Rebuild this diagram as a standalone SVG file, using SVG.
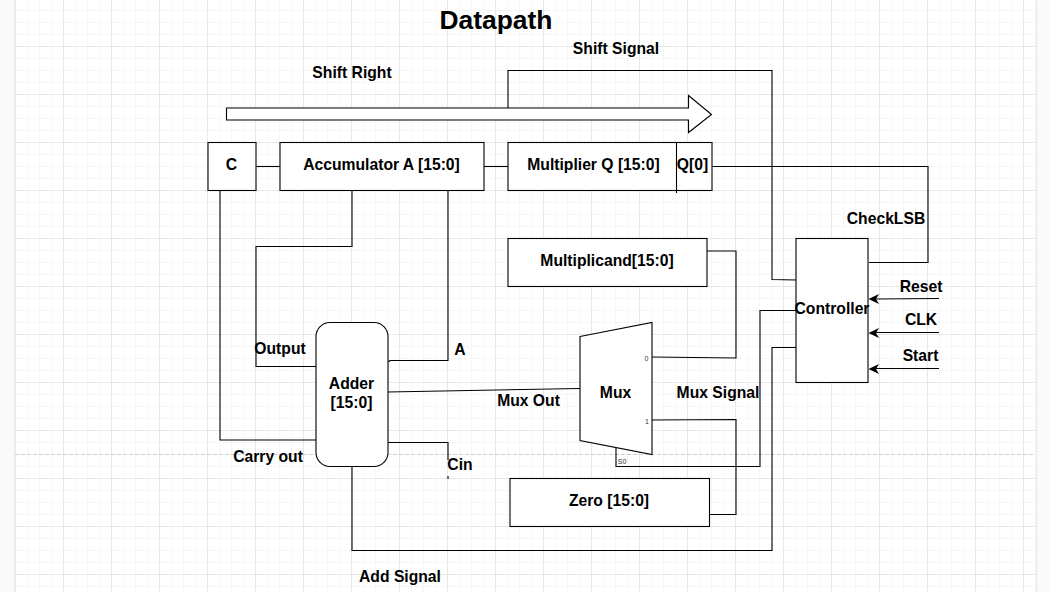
<svg xmlns="http://www.w3.org/2000/svg" width="1050" height="592" viewBox="0 0 1050 592">
<style>
text{font-family:"Liberation Sans",Arial,sans-serif;font-weight:bold;font-size:15.7px;fill:#000;text-anchor:middle}
.n{fill:#fff;stroke:#000;stroke-width:1.1}
.c{fill:none;stroke:#000;stroke-width:1.1}
.s{font-weight:normal;font-size:7px;fill:#333}
</style>
<defs>
<pattern id="minor" patternUnits="userSpaceOnUse" x="15" y="-2" width="12" height="12"><path d="M.5 0V12M0 .5H12" fill="none" stroke="#f6f6f6" stroke-width="1"/></pattern>
<pattern id="major" patternUnits="userSpaceOnUse" x="15" y="-2" width="48" height="48"><path d="M.5 0V48M0 .5H48" fill="none" stroke="#e7e7e7" stroke-width="1"/></pattern>
</defs>
<rect width="1050" height="592" fill="#fafafa"/>
<rect x="14" width="1023" height="592" fill="#e8e8e8"/>
<rect x="15.500" width="1020" height="592" fill="#fff"/>
<rect x="15.500" width="1020" height="592" fill="url(#minor)"/>
<rect x="15.500" width="1020" height="592" fill="url(#major)"/>
<path d="M15 454.500H1035" fill="none" stroke="#cfcfcf" stroke-width="1" stroke-dasharray="4 2"/>
<g id="connectors">
<path class="c" d="M256 166.500H280"/>
<path class="c" d="M484 166.500H508"/>
<path class="c" d="M220 190V440H316"/>
<path class="c" d="M352 190V246.500H256V366.500H316"/>
<path class="c" d="M448 190V360.500H390L388.500 362"/>
<path class="c" d="M388 392L580 388.500"/>
<path class="c" d="M388 442.500H448V460M448 476V479"/>
<path class="c" d="M352 466V550.500H772V347.500H796"/>
<path class="c" d="M707 251H736V358L652 357"/>
<path class="c" d="M710 514.500H736V419.500L652 420"/>
<path class="c" d="M616 448V466.500H760V310.500H796"/>
<path class="c" d="M508 108V70.500H772V279.500L796 280"/>
<path class="c" d="M712 166.500H928V262.500H869"/>
<path class="c" d="M939 298.500L876 299"/>
<path class="c" d="M939 332.500H876"/>
<path class="c" d="M939 368.500H876"/>
<path d="M868.500 299L879 294L876 299L879 304Z"/>
<path d="M868.500 333L879 328L876 333L879 338Z"/>
<path d="M868.500 369L879 364L876 369L879 374Z"/>
</g>
<g id="shift-arrow"><path class="n" d="M226.500 108H688.500V95.500L711.500 114.500L688.500 132.500V120H226.500Z"/></g>
<g id="node-c"><rect class="n" x="208" y="142.500" width="48" height="48"/><text x="231.500" y="170">C</text></g>
<g id="node-accumulator"><rect class="n" x="280" y="142.500" width="204" height="48"/><text x="381.500" y="170">Accumulator A [15:0]</text></g>
<g id="node-multiplier"><rect class="n" x="508" y="142.500" width="204" height="48"/><path class="c" d="M676.500 142.500V193"/><text x="593.500" y="170">Multiplier Q [15:0]</text><text x="692.500" y="170">Q[0]</text></g>
<g id="node-multiplicand"><rect class="n" x="508" y="238.500" width="199" height="48"/><text x="607" y="266">Multiplicand[15:0]</text></g>
<g id="node-zero"><rect class="n" x="510" y="478.500" width="199.500" height="48"/><text x="609" y="506">Zero [15:0]</text></g>
<g id="node-adder"><rect class="n" x="316" y="322.500" width="72" height="144" rx="14" ry="14"/><text x="351.500" y="389">Adder</text><text x="351.500" y="408">[15:0]</text></g>
<g id="node-mux"><path class="n" d="M580 336.500L652 322.500V454.500L580 440.500Z"/><text x="615.500" y="398">Mux</text><text class="s" x="646.500" y="361">0</text><text class="s" x="647" y="424">1</text><text class="s" x="622" y="464">S0</text></g>
<g id="node-controller"><rect class="n" x="796" y="238.500" width="72" height="144"/><text x="832" y="314">Controller</text></g>
<g id="labels">
<text x="496" y="29" style="font-size:26.400px">Datapath</text>
<text x="616" y="54">Shift Signal</text>
<text x="352" y="78">Shift Right</text>
<text x="886" y="224">CheckLSB</text>
<text x="921" y="292">Reset</text>
<text x="921" y="325">CLK</text>
<text x="920.500" y="361">Start</text>
<text x="280" y="354">Output</text>
<text x="460" y="355">A</text>
<text x="528.500" y="406">Mux Out</text>
<text x="718" y="398">Mux Signal</text>
<text x="268" y="462">Carry out</text>
<text x="460" y="470">Cin</text>
<text x="400" y="582">Add Signal</text>
</g>
</svg>
